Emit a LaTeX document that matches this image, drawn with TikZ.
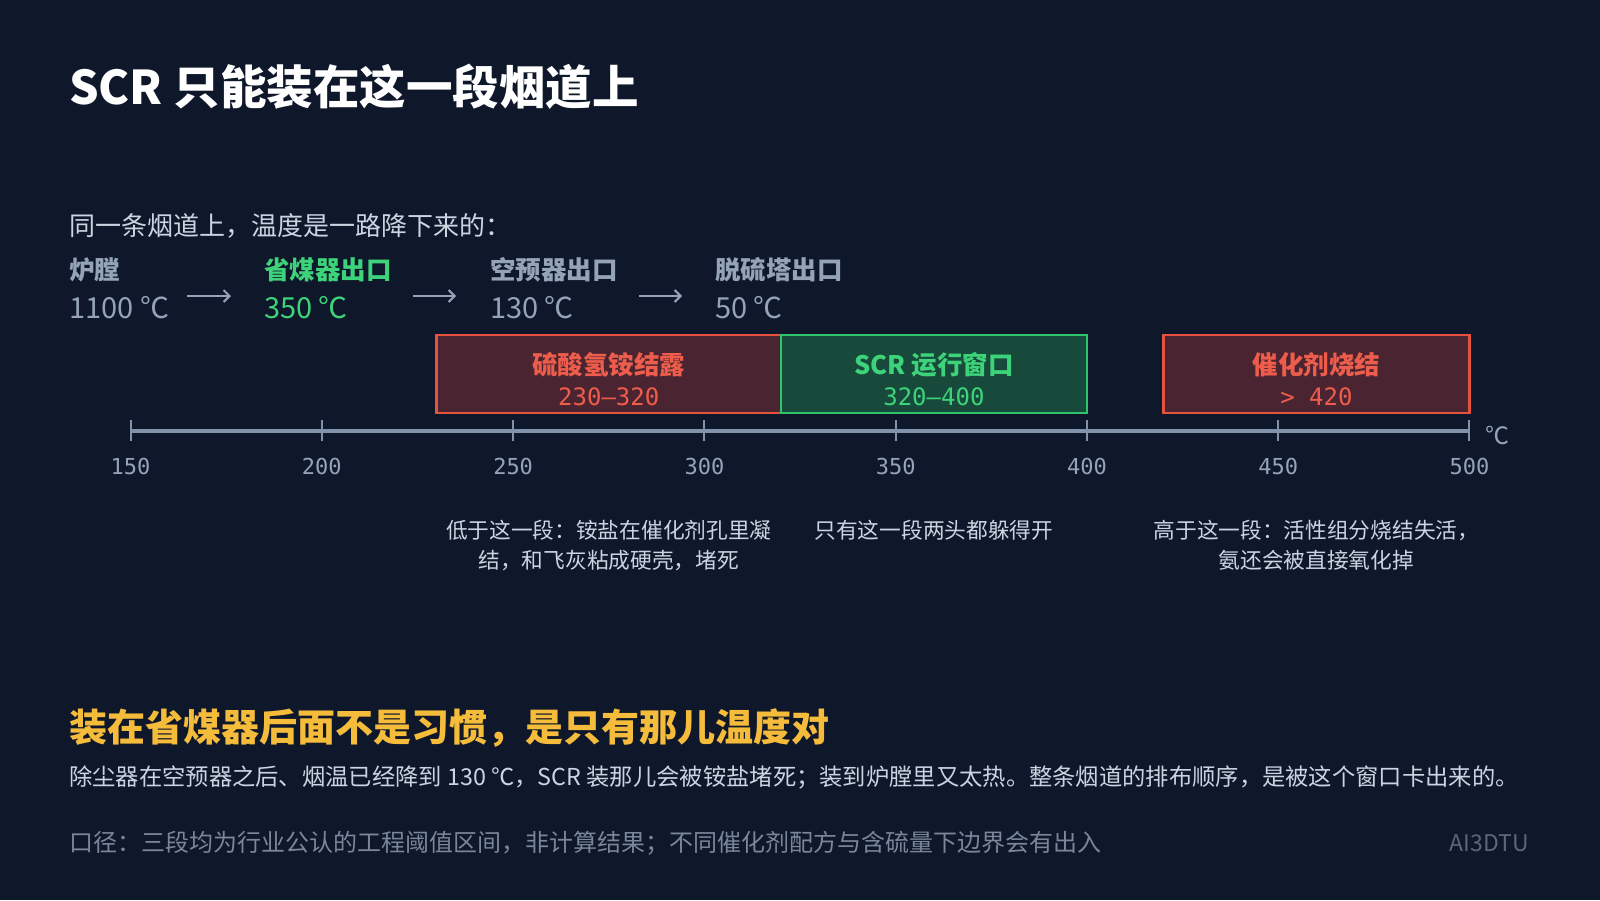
\documentclass[tikz,border=0pt]{standalone}
\usepackage{fontspec}
\setmainfont{Noto Sans CJK SC}
\newfontfamily\numfont{DejaVu Sans Mono}
\usetikzlibrary{arrows.meta}

\definecolor{bgnavy}{HTML}{0F172A}
\definecolor{slategray}{HTML}{94A3B8}
\definecolor{axisgray}{HTML}{8192AB}
\definecolor{softwhite}{HTML}{CBD5E1}
\definecolor{warnred}{HTML}{E5533F}
\definecolor{warnfill}{HTML}{4A2531}
\definecolor{warntext}{HTML}{EE5D4B}
\definecolor{okgreen}{HTML}{2FC46B}
\definecolor{okfill}{HTML}{174A3B}
\definecolor{oktext}{HTML}{3DD37A}
\definecolor{gold}{HTML}{F5BC3C}
\definecolor{notegray}{HTML}{7A8699}
\definecolor{markgray}{HTML}{5C6678}

\begin{document}
\begin{tikzpicture}[x=1pt,y=-1pt,
  declare function={tx(\t)=130.6+(\t-150)*3.8252;},
  stage/.style={anchor=west, inner sep=0, text=slategray, font=\fontsize{25.5}{30}\selectfont\bfseries},
  temp/.style={anchor=west, inner sep=0, text=slategray, font=\fontsize{29}{32}\selectfont},
  flow/.style={draw=slategray, line width=2pt, -{Straight Barb[length=6pt,width=12pt]}},
  band/.style={line width=2.5pt, minimum height=78pt, inner sep=0},
  bandname/.style={inner sep=0, font=\fontsize{25.5}{30}\selectfont\bfseries},
  bandrange/.style={inner sep=0, font=\numfont\fontsize{24}{28}\selectfont},
  ticklab/.style={inner sep=0, text=slategray, font=\numfont\fontsize{22}{26}\selectfont},
  note/.style={inner sep=0, align=center, text=softwhite, font=\fontsize{21.7}{30}\selectfont}]

\fill[bgnavy] (0,0) rectangle (1600,900);
\useasboundingbox (0,0) rectangle (1600,900);

\node (title) [anchor=west, inner sep=0, text=white, font=\fontsize{46.5}{50}\selectfont\bfseries] at (69,87) {SCR 只能装在这一段烟道上};
\node (lead) [anchor=west, inner sep=0, text=softwhite, font=\fontsize{26}{30}\selectfont] at (69,226) {同一条烟道上，温度是一路降下来的：};

% flue stages
\node (furn) [stage] at (69,270) {炉膛};
\node (furnT) [temp] at (69,308) {1100 ℃};
\node (eco) [stage, text=oktext] at (264,270) {省煤器出口};
\node (ecoT) [temp, text=oktext] at (264,308) {350 ℃};
\node (aph) [stage] at (490,270) {空预器出口};
\node (aphT) [temp] at (490,308) {130 ℃};
\node (fgd) [stage] at (715,270) {脱硫塔出口};
\node (fgdT) [temp] at (715,308) {50 ℃};

\coordinate (f1) at (187,296); \coordinate (f2) at (231,296);
\coordinate (f3) at (413,296); \coordinate (f4) at (456,296);
\coordinate (f5) at (639,296); \coordinate (f6) at (682,296);
\draw [flow] (f1) -- (f2);
\draw [flow] (f3) -- (f4);
\draw [flow] (f5) -- (f6);

% temperature bands
\node (salt) [band, draw=warnred, fill=warnfill, minimum width=344.3pt] at ({tx(275)},374) {};
\node (win) [band, draw=okgreen, fill=okfill, minimum width=306pt] at ({tx(360)},374) {};
\node (sinter) [band, draw=warnred, fill=warnfill, minimum width=306pt] at ({tx(460)},374) {};
\node (saltN) [bandname, text=warntext] at ({tx(275)},365) {硫酸氢铵结露};
\node (saltR) [bandrange, text=warntext] at ({tx(275)},397) {230–320};
\node (winN) [bandname, text=oktext] at ({tx(360)},365) {SCR 运行窗口};
\node (winR) [bandrange, text=oktext] at ({tx(360)},397) {320–400};
\node (sinterN) [bandname, text=warntext] at ({tx(460)},365) {催化剂烧结};
\node (sinterR) [bandrange, text=warntext] at ({tx(460)},397) {> 420};

% axis
\coordinate (axL) at ({tx(150)},431);
\coordinate (axR) at ({tx(500)},431);
\draw [axisgray, line width=4pt] (axL) -- (axR);
\foreach \t in {150,200,...,500} {
  \draw [axisgray, line width=2pt] ({tx(\t)},420) -- ({tx(\t)},441);
  \node (tick\t) [ticklab] at ({tx(\t)},466) {\t};
}
\node (unit) [inner sep=0, text=slategray, font=\fontsize{24}{28}\selectfont] at (1497,435) {℃};

\node (saltNote) [note] at ({tx(275)},545) {低于这一段：铵盐在催化剂孔里凝\\结，和飞灰粘成硬壳，堵死};
\node (winNote) [note] at ({tx(360)},530) {只有这一段两头都躲得开};
\node (sinterNote) [note] at ({tx(460)},545) {高于这一段：活性组分烧结失活，\\氨还会被直接氧化掉};

% conclusion
\node (claim) [anchor=west, inner sep=0, text=gold, font=\fontsize{38}{44}\selectfont\bfseries] at (69,728) {装在省煤器后面不是习惯，是只有那儿温度对};
\node (why) [anchor=west, inner sep=0, text=softwhite, font=\fontsize{23.3}{28}\selectfont] at (69,777) {除尘器在空预器之后、烟温已经降到 130 ℃，SCR 装那儿会被铵盐堵死；装到炉膛里又太热。整条烟道的排布顺序，是被这个窗口卡出来的。};
\node (scope) [anchor=west, inner sep=0, text=notegray, font=\fontsize{24}{28}\selectfont] at (69,843) {口径：三段均为行业公认的工程阈值区间，非计算结果；不同催化剂配方与含硫量下边界会有出入};
\node (mark) [anchor=east, inner sep=0, text=markgray, font=\fontsize{23}{28}\selectfont] at (1529,843) {AI3DTU};
\end{tikzpicture}
\end{document}
